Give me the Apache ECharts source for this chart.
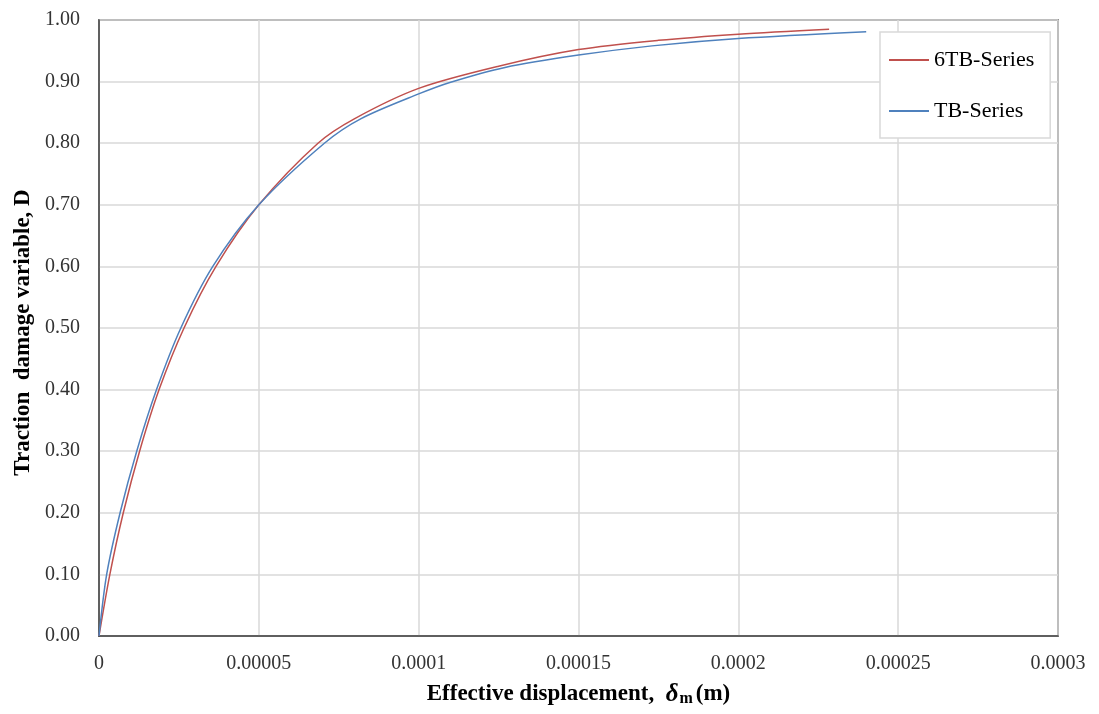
<!DOCTYPE html>
<html>
<head>
<meta charset="utf-8">
<script src="https://cdn.jsdelivr.net/npm/echarts@6/dist/echarts.min.js"></script>
<style>
  html, body { margin: 0; padding: 0; background: #fff; }
  #chart { width: 1099px; height: 714px; }
</style>
</head>
<body>
<div id="chart"></div>
<script>
// Effective displacement (m) and traction damage variable D for each series
const disp6TB = [0, 3.4e-6, 7.6e-6, 1.27e-5, 1.88e-5, 2.66e-5, 3.66e-5, 5.0e-5, 6.85e-5, 8.0e-5, 1.0e-4, 1.25e-4, 1.5e-4, 1.75e-4, 2.0e-4, 2.284e-4];
const dmg6TB  = [0, 0.10, 0.20, 0.30, 0.40, 0.50, 0.60, 0.70, 0.80, 0.84, 0.889, 0.925, 0.952, 0.967, 0.977, 0.985];

const dispTB = [0, 2.4e-6, 6.6e-6, 1.18e-5, 1.8e-5, 2.56e-5, 3.56e-5, 5.0e-5, 7.05e-5, 8.2e-5, 1.0e-4, 1.1e-4, 1.27e-4, 1.5e-4, 1.73e-4, 2.0e-4, 2.4e-4];
const dmgTB  = [0, 0.10, 0.20, 0.30, 0.40, 0.50, 0.60, 0.70, 0.80, 0.84, 0.880, 0.899, 0.923, 0.943, 0.958, 0.970, 0.981];

const seriesNames = ['6TB-Series', 'TB-Series'];

function pairs(xs, ys) { return xs.map((x, i) => [x, ys[i]]); }

const chart = echarts.init(document.getElementById('chart'), null, { renderer: 'canvas' });

const serif = 'Liberation Serif';
const tickFont = { fontFamily: serif, fontSize: 20, color: '#333' };

chart.setOption({
  animation: false,
  backgroundColor: '#fff',
  grid: {
    left: 99, top: 20, right: 41, bottom: 78,
    show: true, borderColor: '#404040', borderWidth: 1.5
  },
  legend: {
    orient: 'vertical',
    left: 880, top: 32,
    padding: [16, 16, 15, 9],
    itemGap: 27,
    itemWidth: 40, itemHeight: 2,
    icon: 'rect',
    backgroundColor: '#fff',
    borderColor: '#D9D9D9', borderWidth: 1.5,
    textStyle: { fontFamily: serif, fontSize: 22, lineHeight: 24, color: '#000' },
    data: seriesNames
  },
  xAxis: {
    type: 'value', min: 0, max: 0.0003, interval: 0.00005,
    axisLine: { show: true, lineStyle: { color: '#404040', width: 1.5 } },
    axisTick: { show: false },
    splitLine: { lineStyle: { color: '#D9D9D9', width: 1.5 } },
    axisLabel: Object.assign({ margin: 18, formatter: v => String(Number(v.toPrecision(6))) }, tickFont),
    name: '{t|Effective displacement,  }{d|δ}{s|m}{t|(m)}',
    nameLocation: 'middle', nameGap: 46,
    nameTextStyle: {
      rich: {
        t: { fontFamily: serif, fontSize: 23, fontWeight: 'bold', color: '#000' },
        d: { fontFamily: serif, fontSize: 25, fontWeight: 'bold', fontStyle: 'italic', color: '#000' },
        s: { fontFamily: serif, fontSize: 16, fontWeight: 'bold', color: '#000', verticalAlign: 'bottom', padding: [9, 3, 0, 1] }
      }
    }
  },
  yAxis: {
    type: 'value', min: 0, max: 1, interval: 0.1,
    axisLine: { show: true, lineStyle: { color: '#404040', width: 1.5 } },
    axisTick: { show: false },
    splitLine: { lineStyle: { color: '#D9D9D9', width: 1.5 } },
    axisLabel: Object.assign({ margin: 19, formatter: v => v.toFixed(2) }, tickFont),
    name: 'Traction  damage variable, D',
    nameLocation: 'middle', nameGap: 62, nameRotate: 90,
    nameTextStyle: { fontFamily: serif, fontSize: 23, fontWeight: 'bold', color: '#000', padding: [0, 9, 0, 0] }
  },
  series: [
    {
      name: seriesNames[0], type: 'line', smooth: 0.3, symbol: 'none',
      lineStyle: { color: '#C0504D', width: 1.5 }, itemStyle: { color: '#C0504D' },
      data: pairs(disp6TB, dmg6TB)
    },
    {
      name: seriesNames[1], type: 'line', smooth: 0.3, symbol: 'none',
      lineStyle: { color: '#4F81BD', width: 1.5 }, itemStyle: { color: '#4F81BD' },
      data: pairs(dispTB, dmgTB)
    }
  ]
});
</script>
</body>
</html>
